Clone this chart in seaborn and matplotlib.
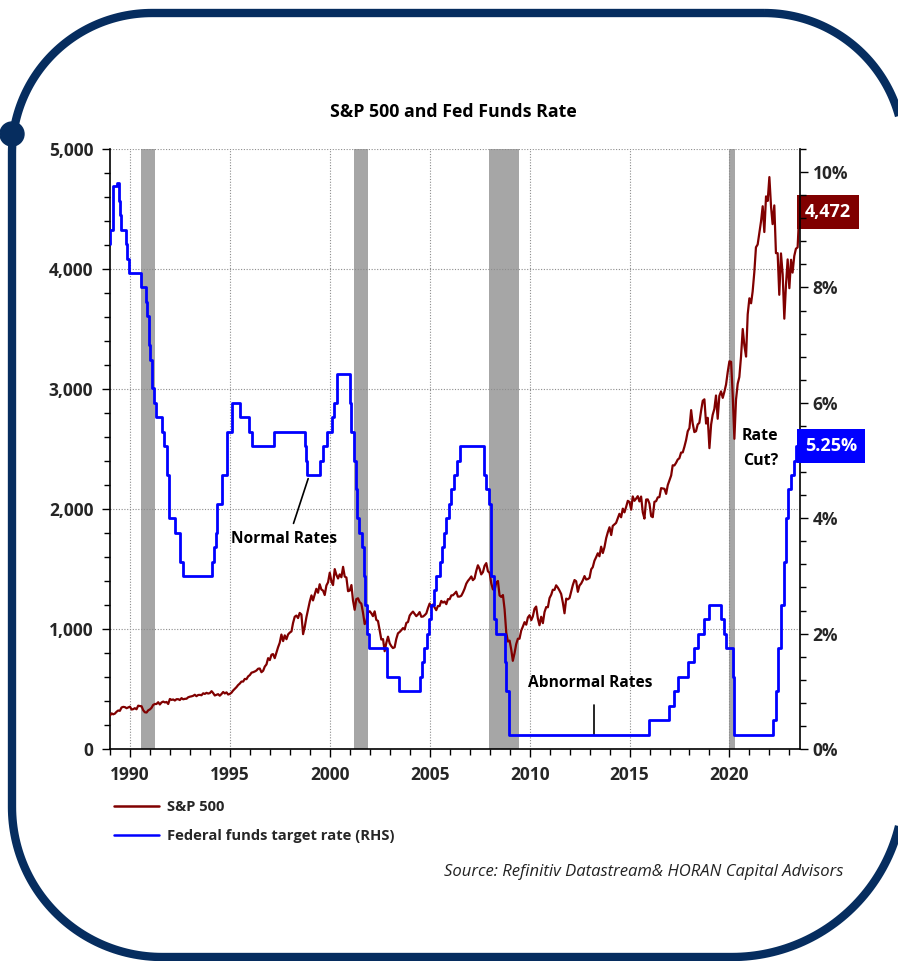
import numpy as np
import pandas as pd
import matplotlib
matplotlib.use("Agg")
import matplotlib.pyplot as plt
import seaborn as sns
from matplotlib import font_manager
from matplotlib.patches import Polygon, Circle
from matplotlib.lines import Line2D
from matplotlib.ticker import MultipleLocator, FuncFormatter
from matplotlib.transforms import IdentityTransform

# ---------------- data ----------------
sp500_start = "1988-12-31"
sp500_values = [
    278,
    297, 289, 295, 310, 321, 318, 346, 351, 349, 340, 346, 353,
    329, 332, 340, 331, 361, 358, 356, 323, 306, 304, 322, 330,
    344, 367, 375, 375, 390, 371, 388, 395, 388, 392, 375, 417,
    409, 413, 404, 415, 415, 408, 424, 414, 418, 419, 431, 436,
    439, 443, 452, 440, 450, 451, 448, 464, 459, 468, 462, 466,
    482, 467, 446, 451, 457, 444, 458, 475, 463, 472, 454, 459,
    470, 487, 501, 515, 533, 545, 562, 562, 584, 582, 605, 616,
    636, 640, 646, 654, 669, 671, 640, 652, 687, 705, 757, 741,
    786, 791, 757, 801, 848, 885, 954, 899, 947, 915, 955, 970,
    980, 1049, 1102, 1112, 1091, 1134, 1121, 957, 1017, 1099, 1164, 1229,
    1280, 1238, 1286, 1335, 1302, 1373, 1329, 1320, 1283, 1363, 1389, 1469,
    1394, 1366, 1499, 1452, 1421, 1455, 1431, 1518, 1437, 1429, 1315, 1320,
    1366, 1240, 1160, 1249, 1256, 1224, 1211, 1134, 1041, 1060, 1139, 1148,
    1130, 1107, 1147, 1076, 1067, 990, 912, 916, 815, 886, 936, 880,
    856, 841, 848, 917, 964, 975, 990, 1008, 996, 1051, 1058, 1112,
    1131, 1145, 1126, 1107, 1121, 1141, 1102, 1104, 1115, 1130, 1174, 1212,
    1181, 1204, 1181, 1157, 1192, 1191, 1234, 1220, 1229, 1207, 1249, 1248,
    1280, 1281, 1295, 1311, 1270, 1270, 1277, 1304, 1336, 1378, 1401, 1418,
    1438, 1407, 1421, 1482, 1531, 1503, 1455, 1474, 1527, 1549, 1481, 1468,
    1379, 1331, 1323, 1386, 1400, 1280, 1267, 1283, 1165, 969, 896, 903,
    826, 735, 798, 873, 919, 919, 987, 1021, 1057, 1036, 1096, 1115,
    1074, 1104, 1169, 1187, 1089, 1031, 1102, 1049, 1141, 1183, 1181, 1258,
    1286, 1327, 1326, 1364, 1345, 1321, 1292, 1219, 1131, 1253, 1247, 1258,
    1312, 1366, 1408, 1398, 1310, 1362, 1379, 1407, 1441, 1412, 1416, 1426,
    1498, 1515, 1569, 1598, 1631, 1606, 1686, 1633, 1682, 1757, 1806, 1848,
    1783, 1859, 1872, 1884, 1924, 1960, 1931, 2003, 1972, 2018, 2068, 2059,
    1995, 2105, 2068, 2086, 2107, 2063, 2104, 1972, 1920, 2079, 2080, 2044,
    1940, 1932, 2060, 2065, 2097, 2099, 2174, 2171, 2168, 2126, 2199, 2239,
    2279, 2364, 2363, 2384, 2412, 2423, 2470, 2472, 2519, 2575, 2648, 2674,
    2824, 2714, 2641, 2648, 2705, 2718, 2816, 2902, 2914, 2712, 2760, 2507,
    2704, 2784, 2834, 2946, 2752, 2942, 2980, 2926, 2977, 3038, 3141, 3231,
    3226, 2954, 2585, 2912, 3044, 3100, 3271, 3500, 3363, 3270, 3622, 3756,
    3714, 3811, 3973, 4181, 4204, 4298, 4395, 4523, 4308, 4605, 4567, 4766,
    4516, 4374, 4530, 4132, 4132, 3785, 4130, 3955, 3586, 3872, 4080, 3840,
    4077, 3970, 4109, 4169, 4180, 4472,
]

fed_dates = [
    "1989-01-01", "1989-01-05", "1989-02-24", "1989-05-17", "1989-06-06", "1989-07-07",
    "1989-07-27", "1989-10-18", "1989-11-06", "1989-12-20",
    "1990-07-13", "1990-10-29", "1990-11-14", "1990-12-07", "1990-12-18",
    "1991-01-09", "1991-02-01", "1991-03-08", "1991-04-30", "1991-08-06", "1991-09-13",
    "1991-10-31", "1991-11-06", "1991-12-06", "1991-12-20",
    "1992-04-09", "1992-07-02", "1992-09-04",
    "1994-02-04", "1994-03-22", "1994-04-18", "1994-05-17", "1994-08-16", "1994-11-15",
    "1995-02-01", "1995-07-06", "1995-12-19", "1996-01-31", "1997-03-25",
    "1998-09-29", "1998-10-15", "1998-11-17",
    "1999-06-30", "1999-08-24", "1999-11-16",
    "2000-02-02", "2000-03-21", "2000-05-16",
    "2001-01-03", "2001-01-31", "2001-03-20", "2001-04-18", "2001-05-15", "2001-06-27",
    "2001-08-21", "2001-09-17", "2001-10-02", "2001-11-06", "2001-12-11",
    "2002-11-06", "2003-06-25",
    "2004-06-30", "2004-08-10", "2004-09-21", "2004-11-10", "2004-12-14",
    "2005-02-02", "2005-03-22", "2005-05-03", "2005-06-30", "2005-08-09", "2005-09-20",
    "2005-11-01", "2005-12-13",
    "2006-01-31", "2006-03-28", "2006-05-10", "2006-06-29",
    "2007-09-18", "2007-10-31", "2007-12-11",
    "2008-01-22", "2008-01-30", "2008-03-18", "2008-04-30", "2008-10-08", "2008-10-29",
    "2008-12-16",
    "2015-12-16", "2016-12-14",
    "2017-03-15", "2017-06-14", "2017-12-13",
    "2018-03-21", "2018-06-13", "2018-09-26", "2018-12-19",
    "2019-07-31", "2019-09-18", "2019-10-30",
    "2020-03-03", "2020-03-15",
    "2022-03-16", "2022-05-04", "2022-06-15", "2022-07-27", "2022-09-21", "2022-11-02",
    "2022-12-14",
    "2023-02-01", "2023-03-22", "2023-05-03", "2023-06-30",
]
fed_rates = [
    8.75, 9.0, 9.75, 9.81, 9.5, 9.25,
    9.0, 8.75, 8.5, 8.25,
    8.0, 7.75, 7.5, 7.25, 7.0,
    6.75, 6.25, 6.0, 5.75, 5.5, 5.25,
    5.0, 4.75, 4.5, 4.0,
    3.75, 3.25, 3.0,
    3.25, 3.5, 3.75, 4.25, 4.75, 5.5,
    6.0, 5.75, 5.5, 5.25, 5.5,
    5.25, 5.0, 4.75,
    5.0, 5.25, 5.5,
    5.75, 6.0, 6.5,
    6.0, 5.5, 5.0, 4.5, 4.0, 3.75,
    3.5, 3.0, 2.5, 2.0, 1.75,
    1.25, 1.0,
    1.25, 1.5, 1.75, 2.0, 2.25,
    2.5, 2.75, 3.0, 3.25, 3.5, 3.75,
    4.0, 4.25,
    4.5, 4.75, 5.0, 5.25,
    4.75, 4.5, 4.25,
    3.5, 3.0, 2.25, 2.0, 1.5, 1.0,
    0.25,
    0.5, 0.75,
    1.0, 1.25, 1.5,
    1.75, 2.0, 2.25, 2.5,
    2.25, 2.0, 1.75,
    1.25, 0.25,
    0.5, 1.0, 1.75, 2.5, 3.25, 4.0,
    4.5,
    4.75, 5.0, 5.25, 5.25,
]

recession_starts = ["1990-07-15", "2001-03-15", "2007-12-15", "2020-01-01"]
recession_ends = ["1991-03-25", "2001-11-25", "2009-06-20", "2020-04-20"]

sp_label = "S&P 500"
fed_label = "Federal funds target rate (RHS)"
title_text = "S&P 500 and Fed Funds Rate"
source_text = "Source: Refinitiv Datastream& HORAN Capital Advisors"


def dec_year(d):
    d = pd.Timestamp(d)
    n = 366 if d.is_leap_year else 365
    return d.year + (d.dayofyear - 1) / n


sp_dates = pd.date_range(sp500_start, periods=len(sp500_values), freq="ME")
sp_df = pd.DataFrame({"year": [dec_year(d) for d in sp_dates], "value": sp500_values})
fed_df = pd.DataFrame({"year": [dec_year(d) for d in fed_dates], "rate": fed_rates})

# ---------------- style ----------------
sns.set_theme(style="white")
avail = {f.name for f in font_manager.fontManager.ttflist}
FONT = next((f for f in ["Liberation Sans Narrow", "Open Sans", "Roboto", "DejaVu Sans"] if f in avail), "DejaVu Sans")
plt.rcParams["font.family"] = [FONT, "DejaVu Sans"]

W, H = 898, 961
fig = plt.figure(figsize=(W / 100, H / 100), dpi=100)
fig.patch.set_facecolor("white")

NAVY = "#062d5f"
RED = "#800000"
BLUE = "#0000ff"
GRAY = "#a6a6a6"


# ---------------- decorative frame (pixel coordinates, y measured from top) ----------------
def frame_outline(x0, y0, x1, y1, r_tl, r_tr, r_br, r_bl, n=60):
    pts = []

    def arc(cx, cy, r, a0, a1):
        t = np.radians(np.linspace(a0, a1, n))
        return list(zip(cx + r * np.cos(t), cy + r * np.sin(t)))

    pts += arc(x1 - r_tr, y0 + r_tr, r_tr, -90, 0)
    pts += arc(x1 - r_br, y1 - r_br, r_br, 0, 90)
    pts += arc(x0 + r_bl, y1 - r_bl, r_bl, 90, 180)
    pts += arc(x0 + r_tl, y0 + r_tl, r_tl, 180, 270)
    return np.array([(x, H - y) for x, y in pts])


outline = frame_outline(12, 13, 904, 957, 140, 140, 172, 150)
fig.add_artist(Polygon(outline, closed=True, fill=False, ec=NAVY, lw=6.0,
                       transform=IdentityTransform(), zorder=0))
fig.add_artist(Circle((12, H - 134), 12, color=NAVY, transform=IdentityTransform(), zorder=0))

# main axes: x 110..800, y 149..749
L, R, T, B = 110, 800, 149, 749
ax = fig.add_axes([L / W, 1 - B / H, (R - L) / W, (B - T) / H])
ax.set_facecolor("none")

for s, e in zip(recession_starts, recession_ends):
    ax.axvspan(dec_year(s), dec_year(e), color=GRAY, lw=0, zorder=0.2)

sns.lineplot(data=sp_df, x="year", y="value", ax=ax, color=RED, lw=1.6,
             estimator=None, zorder=3, legend=False)

ax.set_xlim(1989.0, 2023.53)
ax.set_ylim(0, 5000)
ax.set_xlabel("")
ax.set_ylabel("")
ax.set_axisbelow(True)
ax.grid(True, which="major", linestyle=(0, (1, 1.5)), color="#8c8c8c", lw=0.8, zorder=0.5)

ax.xaxis.set_major_locator(MultipleLocator(5))
ax.xaxis.set_minor_locator(MultipleLocator(1))
ax.yaxis.set_major_locator(MultipleLocator(1000))
ax.yaxis.set_minor_locator(MultipleLocator(200))
ax.yaxis.set_major_formatter(FuncFormatter(lambda v, p: f"{v:,.0f}"))
ax.xaxis.set_major_formatter(FuncFormatter(lambda v, p: f"{v:.0f}"))

ax.tick_params(axis="both", which="both", direction="out", color="black", width=1,
               bottom=True, left=True)
ax.tick_params(axis="both", which="major", length=6, labelsize=12.5, pad=6)
ax.tick_params(axis="both", which="minor", length=4)
for lab in ax.get_xticklabels() + ax.get_yticklabels():
    lab.set_fontweight("bold")

for side in ["left", "bottom"]:
    ax.spines[side].set_color("black")
    ax.spines[side].set_linewidth(1.2)
ax.spines["top"].set_visible(False)
ax.spines["right"].set_visible(False)

ax2 = ax.twinx()
ax2.set_facecolor("none")
sns.lineplot(data=fed_df, x="year", y="rate", ax=ax2, color=BLUE, lw=2.0,
             estimator=None, drawstyle="steps-post", zorder=4, legend=False)
ax2.set_ylim(0, 10.4)
ax2.set_ylabel("")
ax2.yaxis.set_major_locator(MultipleLocator(2))
ax2.yaxis.set_minor_locator(MultipleLocator(0.4))
ax2.yaxis.set_major_formatter(FuncFormatter(lambda v, p: f"{v:.0f}%"))
ax2.tick_params(axis="y", which="both", direction="out", color="black", width=1, right=True)
ax2.tick_params(axis="y", which="major", length=6, labelsize=12.5, pad=3)
ax2.tick_params(axis="y", which="minor", length=4)
for lab in ax2.get_yticklabels():
    lab.set_fontweight("bold")
ax2.spines["top"].set_visible(False)
ax2.spines["left"].set_visible(False)
ax2.spines["bottom"].set_visible(False)
ax2.spines["right"].set_color("black")
ax2.spines["right"].set_linewidth(1.2)
ax2.grid(False)

# end-value labels
fs_lab = 13
pad = 0.45
sp_last = sp500_values[-1]
fed_last = fed_rates[-1]
ax.annotate(f"{sp_last:,.0f}", xy=(1.0, sp_last), xycoords=ax.get_yaxis_transform(),
            xytext=(pad * fs_lab - 2.5, 0), textcoords="offset points", ha="left", va="center",
            fontsize=fs_lab, fontweight="bold", color="white", zorder=10, annotation_clip=False,
            bbox=dict(boxstyle=f"square,pad={pad}", fc=RED, ec="none"))
ax2.annotate(f"{fed_last:.2f}%", xy=(1.0, fed_last), xycoords=ax2.get_yaxis_transform(),
             xytext=(pad * fs_lab - 2.5, 0), textcoords="offset points", ha="left", va="center",
             fontsize=fs_lab, fontweight="bold", color="white", zorder=10, annotation_clip=False,
             bbox=dict(boxstyle=f"square,pad={pad}", fc=BLUE, ec="none"))

# annotations
ax.annotate("", xy=(1998.96, 2275), xytext=(1998.14, 1858),
            arrowprops=dict(arrowstyle="-", color="black", lw=1.2), zorder=6)
ax.text(1997.7, 1750, "Normal Rates", ha="center", va="center", fontsize=11.2,
        fontweight="bold", color="black", zorder=6)
ax.text(2013.05, 550, "Abnormal Rates", ha="center", va="center", fontsize=11.2,
        fontweight="bold", color="black", zorder=6)
ax.plot([2013.2, 2013.2], [117, 367], color="black", lw=1.2, zorder=6)
ax.text(2021.55, 2505, "Rate\nCut?", ha="center", va="center", fontsize=11.5,
        fontweight="bold", color="black", linespacing=1.7, zorder=6)

# title
fig.text(453 / W, 1 - 112 / H, title_text, ha="center", va="center", fontsize=12.8,
         fontweight="bold", color="black")

# legend
handles = [Line2D([0], [0], color=RED, lw=1.8), Line2D([0], [0], color=BLUE, lw=1.8)]
fig.legend(handles, [sp_label, fed_label], loc="upper left",
           bbox_to_anchor=(110 / W, 1 - 796 / H), frameon=False,
           prop=dict(size=10.6, weight="bold"), handlelength=3.0, handletextpad=0.55,
           labelspacing=1.0, borderaxespad=0, borderpad=0.3)

# source
fig.text(843 / W, 1 - 872 / H, source_text, ha="right", va="center", fontsize=12,
         style="italic", color="#222222", zorder=20)

fig.savefig("out.png", dpi=100, facecolor="white")
